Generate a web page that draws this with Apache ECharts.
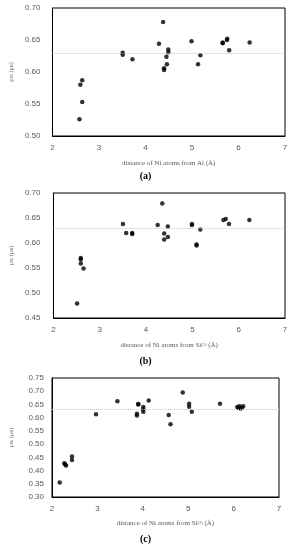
<!DOCTYPE html>
<html><head><meta charset="utf-8">
<script src="https://cdn.jsdelivr.net/npm/echarts@6/dist/echarts.min.js"></script>
<style>html,body{margin:0;padding:0;background:#fff}#c{width:291px;height:550px}</style>
</head><body><div id="c"></div>
<script>
// Panel (a): distance from Al
const aX = [2.58,2.64,2.60,2.64,3.51,3.51,3.72,4.29,4.38,4.40,4.40,4.45,4.46,4.49,4.49,4.99,5.13,5.18,5.66,5.66,5.75,5.76,5.80,6.24];
const aY = [0.526,0.553,0.580,0.587,0.630,0.627,0.620,0.644,0.678,0.606,0.603,0.624,0.612,0.635,0.631,0.648,0.612,0.626,0.646,0.645,0.650,0.652,0.634,0.646];
// Panel (b): distance from Si(1)
const bX = [2.51,2.59,2.59,2.59,2.65,3.50,3.57,3.70,3.70,4.25,4.35,4.39,4.39,4.47,4.47,4.99,4.99,5.09,5.09,5.17,5.67,5.72,5.79,6.23];
const bY = [0.479,0.570,0.567,0.559,0.549,0.638,0.620,0.620,0.618,0.636,0.679,0.619,0.607,0.633,0.612,0.638,0.636,0.597,0.595,0.627,0.646,0.648,0.638,0.646];
// Panel (c): distance from Si(2)
const cX = [2.17,2.27,2.29,2.31,2.44,2.44,2.97,3.44,3.90,3.90,3.87,3.87,4.01,4.01,4.01,4.13,4.57,4.61,4.88,5.02,5.02,5.08,5.70,6.08,6.11,6.13,6.15,6.18,6.21];
const cY = [0.355,0.428,0.423,0.419,0.453,0.440,0.613,0.662,0.652,0.650,0.615,0.608,0.640,0.632,0.622,0.665,0.610,0.575,0.695,0.653,0.641,0.622,0.653,0.640,0.637,0.643,0.635,0.637,0.643];
const refValue = 0.632;
const xTicks = [2,3,4,5,6,7];
const captions = ['(a)','(b)','(c)'];
const xNames = [
  'distance of Ni atoms from Al (Å)',
  ['distance of Ni atoms from Si','{sup|(1)}',' (Å)'],
  ['distance of Ni atoms from Si','{sup|(2)}',' (Å)']
];
const yRanges = [[0.50,0.70,0.05],[0.45,0.70,0.05],[0.30,0.75,0.05]];

const grids = [
  {left:42, right:6, top:8, height:128},
  {left:43, right:6, top:193, height:125},
  {left:46, right:12, top:378, height:119}
];
const yMargins = [12, 13, 8];
const yGaps = [34, 35, 38];
const tickColor = '#595959';
const nameRich = {
  sub:{fontSize:4.5, fontFamily:'Liberation Serif', color:tickColor, padding:[0,0,0,0], verticalAlign:'bottom'},
  sup:{fontSize:4.5, fontFamily:'Liberation Serif', color:tickColor, verticalAlign:'top'}
};
const option = {
  animation:false,
  grid: grids.map(g => Object.assign({show:true, borderColor:'#000', borderWidth:1, containLabel:false}, g)),
  xAxis: [0,1,2].map(i => ({
    gridIndex:i, type:'value', min:2, max:7, interval:1,
    axisLine:{show:true, lineStyle:{color:'#000', width:1}},
    axisTick:{show:false}, splitLine:{show:false},
    axisLabel:{color:tickColor, fontSize:8, fontFamily:'Liberation Sans', margin:8},
    name: Array.isArray(xNames[i]) ? xNames[i].join('') : xNames[i],
    nameLocation:'middle', nameGap: i===2 ? 23 : 24,
    nameTextStyle:{color:tickColor, fontSize:7, fontFamily:'Liberation Serif', rich:nameRich}
  })),
  yAxis: [0,1,2].map(i => ({
    gridIndex:i, type:'value', min:yRanges[i][0], max:yRanges[i][1], interval:yRanges[i][2],
    axisLine:{show:true, lineStyle:{color:'#000', width:1}},
    axisTick:{show:false}, splitLine:{show:false},
    axisLabel:{color:tickColor, fontSize:8, fontFamily:'Liberation Sans', margin:yMargins[i], formatter:v=>v.toFixed(2)},
    name:'μ{sub|Ni} (μ{sub|B})', nameLocation:'middle', nameGap:yGaps[i], nameRotate:90,
    nameTextStyle:{color:tickColor, fontSize:6, fontFamily:'Liberation Serif', rich:nameRich}
  })),
  series: [[aX,aY],[bX,bY],[cX,cY]].map((d,i) => ({
    type:'scatter', xAxisIndex:i, yAxisIndex:i,
    data: d[0].map((x,j)=>[x,d[1][j]]),
    symbol:'circle', symbolSize:4.5,
    itemStyle:{color:'#000'},
    markLine:{silent:true, symbol:'none', label:{show:false},
      lineStyle:{color:'#c8c8c8', type:'dotted', width:1},
      data:[{yAxis:refValue}]}
  })),
  graphic: [
    {type:'text', left:'center', top:171, style:{text:captions[0], font:'bold 10px "Liberation Serif"', fill:'#000'}},
    {type:'text', left:'center', top:356, style:{text:captions[1], font:'bold 10px "Liberation Serif"', fill:'#000'}},
    {type:'text', left:'center', top:534, style:{text:captions[2], font:'bold 10px "Liberation Serif"', fill:'#000'}}
  ]
};
const chart = echarts.init(document.getElementById('c'));
chart.setOption(option);
</script></body></html>
